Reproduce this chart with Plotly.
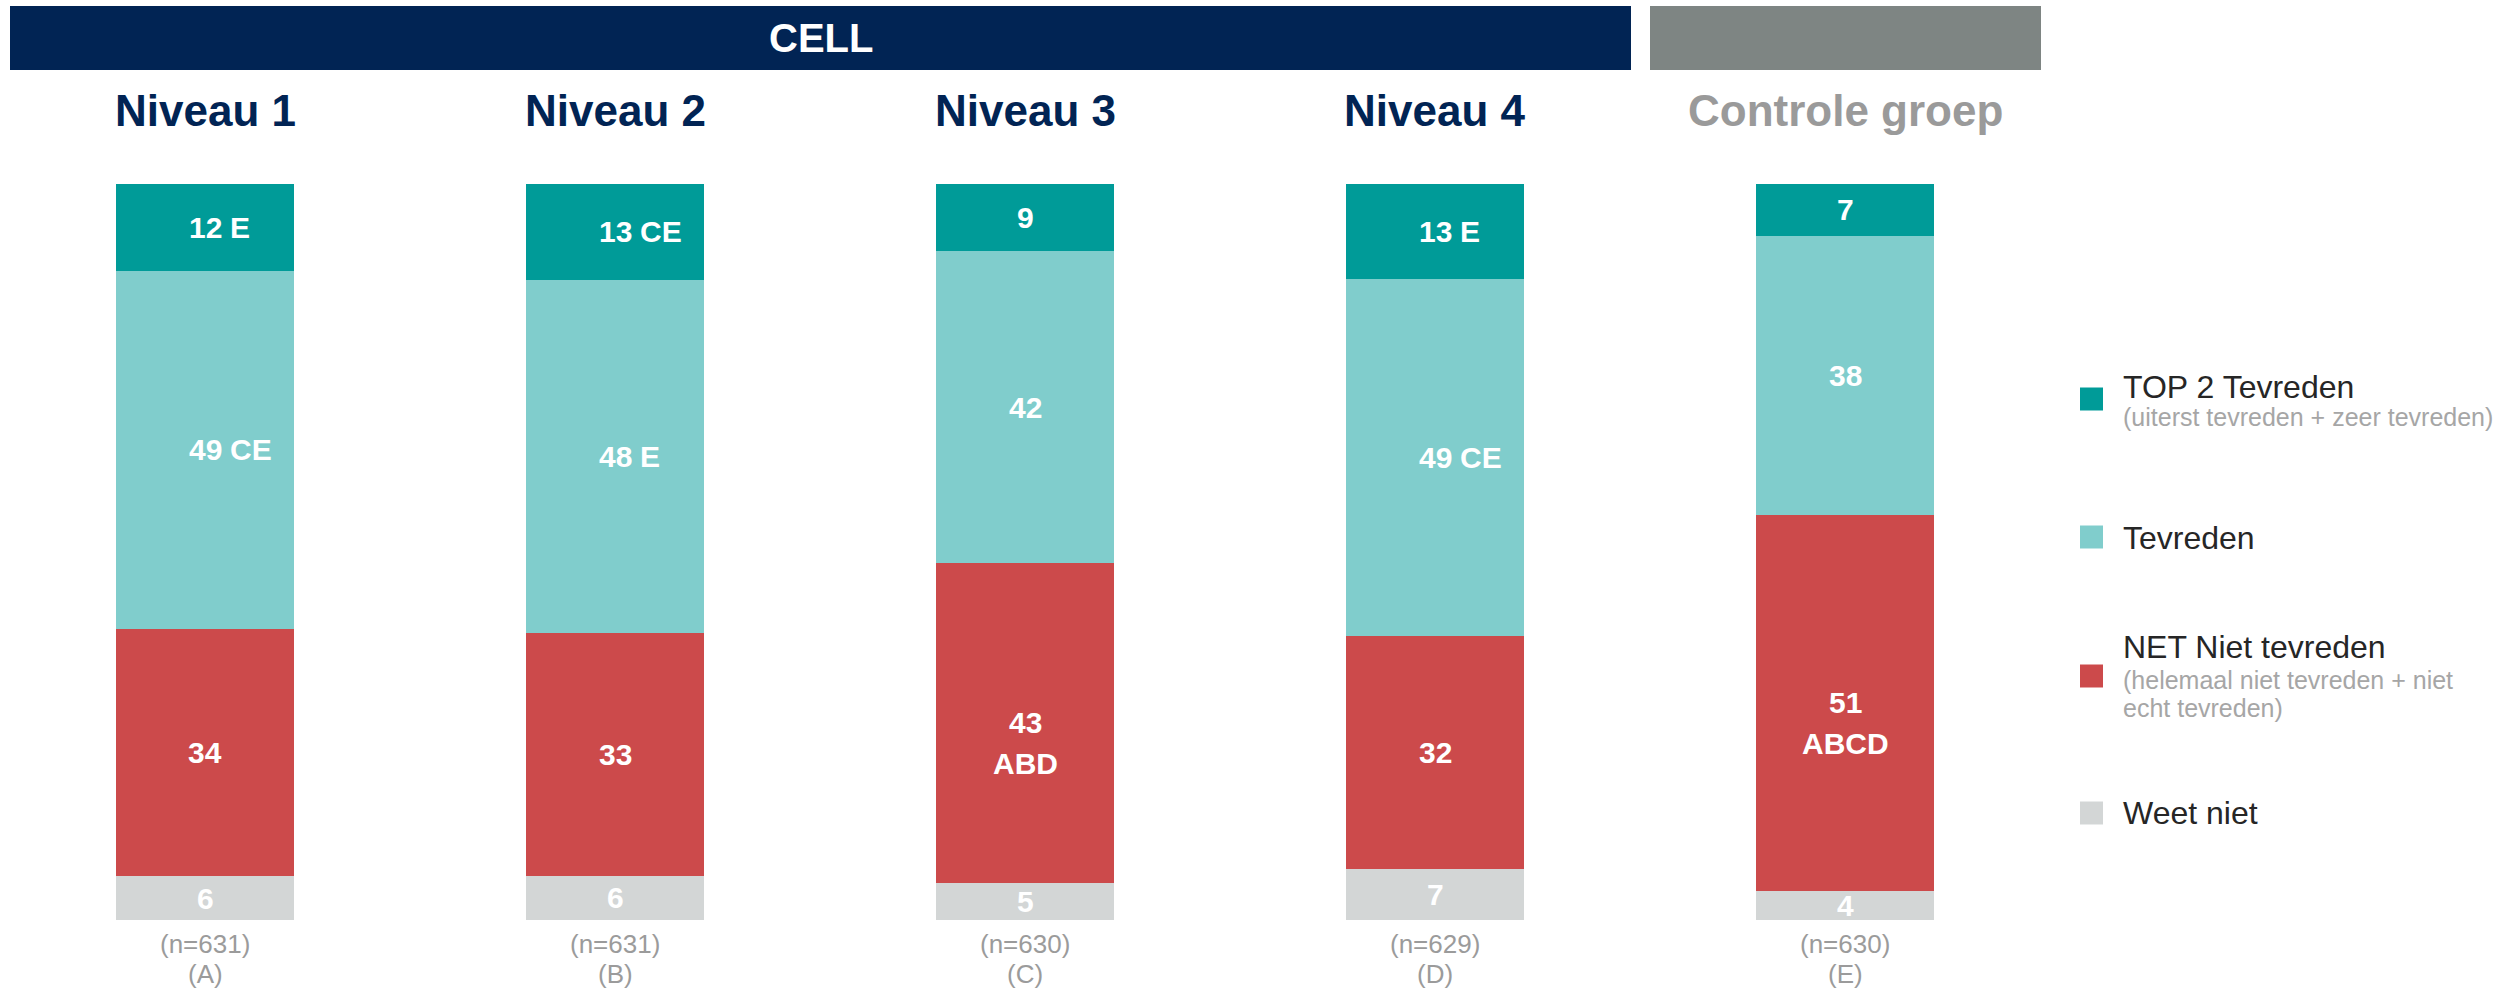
import plotly.graph_objects as go

# ---------------- data ----------------
categories = ["Niveau 1", "Niveau 2", "Niveau 3", "Niveau 4", "Controle groep"]
n_sizes = [631, 631, 630, 629, 630]
group_codes = ["A", "B", "C", "D", "E"]

weet_niet = [6, 6, 5, 7, 4]
niet_tevreden = [34, 33, 43, 32, 51]
tevreden = [49, 48, 42, 49, 38]
top2_tevreden = [12, 13, 9, 13, 7]

weet_niet_sig = ["", "", "", "", ""]
niet_tevreden_sig = ["", "", "ABD", "", "ABCD"]
tevreden_sig = ["CE", "E", "", "CE", ""]
top2_tevreden_sig = ["E", "CE", "", "E", ""]

series_names = ["Weet niet", "NET Niet tevreden", "Tevreden", "TOP 2 Tevreden"]
series_notes = ["", "(helemaal niet tevreden + niet<br>echt tevreden)", "",
                "(uiterst tevreden + zeer tevreden)"]
banner_text = "CELL"

# ---------------- styling ----------------
W, H = 2496, 995
FONT = "Liberation Sans, Arial, Helvetica, sans-serif"
NAVY = "#012454"
series_values = [weet_niet, niet_tevreden, tevreden, top2_tevreden]
series_sig = [weet_niet_sig, niet_tevreden_sig, tevreden_sig, top2_tevreden_sig]
series_colors = ["#D3D6D6", "#CC4A4B", "#80CDCC", "#009B98"]
sig_layout = ["inline", "below", "inline", "inline"]
control_index = 4


def px(x):
    return x / W


def py(y):
    return 1 - y / H


fig = go.Figure()
for name, vals, col in zip(series_names, series_values, series_colors):
    fig.add_trace(go.Bar(
        x=categories, y=vals, name=name,
        marker=dict(color=col, line=dict(width=0)),
        showlegend=False, hoverinfo="x+y+name",
    ))

annotations = []
shapes = []

# segment labels
totals = [sum(s[i] for s in series_values) for i in range(len(categories))]
label_font = dict(family=FONT, size=30, color="white", weight="bold")
for s_idx, (vals, sigs) in enumerate(zip(series_values, series_sig)):
    for i, cat in enumerate(categories):
        cum = sum(series_values[k][i] for k in range(s_idx))
        mid = (cum + vals[i] / 2) / totals[i] * 100
        annotations.append(dict(x=cat, y=mid, xref="x", yref="y", text=str(vals[i]),
                                showarrow=False, xanchor="center", yanchor="middle",
                                font=label_font))
        if sigs[i]:
            if sig_layout[s_idx] == "inline":
                half = len(str(vals[i])) * 0.556 * 30 / 2
                annotations.append(dict(x=cat, y=mid, xref="x", yref="y", text=sigs[i],
                                        showarrow=False, xanchor="left", yanchor="middle",
                                        xshift=half + 6, font=label_font))
            else:
                annotations.append(dict(x=cat, y=mid, xref="x", yref="y", text=sigs[i],
                                        showarrow=False, xanchor="center", yanchor="middle",
                                        yshift=-41, font=label_font))

# column titles and base labels
for i, cat in enumerate(categories):
    col = "#9A9A9A" if i == control_index else NAVY
    annotations.append(dict(x=cat, y=py(110), xref="x", yref="paper", text=cat,
                            showarrow=False, xanchor="center", yanchor="middle",
                            font=dict(family=FONT, size=44, color=col, weight="bold")))
    annotations.append(dict(x=cat, y=py(944), xref="x", yref="paper",
                            text=f"(n={n_sizes[i]})", showarrow=False,
                            xanchor="center", yanchor="middle",
                            font=dict(family=FONT, size=26, color="#9B9B9B")))
    annotations.append(dict(x=cat, y=py(974), xref="x", yref="paper",
                            text=f"({group_codes[i]})", showarrow=False,
                            xanchor="center", yanchor="middle",
                            font=dict(family=FONT, size=26, color="#9B9B9B")))

# banner
shapes.append(dict(type="rect", xref="paper", yref="paper", x0=px(10), x1=px(1631),
                   y0=py(70), y1=py(6), fillcolor=NAVY, line=dict(width=0), layer="below"))
shapes.append(dict(type="rect", xref="paper", yref="paper", x0=px(1650), x1=px(2041),
                   y0=py(70), y1=py(6), fillcolor="#7E8583", line=dict(width=0), layer="below"))
annotations.append(dict(x=px(820.5), y=py(38), xref="paper", yref="paper", text=banner_text,
                        showarrow=False, xanchor="center", yanchor="middle",
                        font=dict(family=FONT, size=40, color="white", weight="bold")))

# legend (top to bottom: reversed stacking order)
legend_rows = [
    # (series index, square centre y, main text y, note line ys)
    (3, 399, 387, [417]),
    (2, 537, 538, []),
    (1, 676, 647, [680, 708]),
    (0, 813, 813, []),
]
for s_idx, sq_y, txt_y, note_ys in legend_rows:
    shapes.append(dict(type="rect", xref="paper", yref="paper", x0=px(2080), x1=px(2103),
                       y0=py(sq_y + 11.5), y1=py(sq_y - 11.5),
                       fillcolor=series_colors[s_idx], line=dict(width=0)))
    annotations.append(dict(x=px(2121), y=py(txt_y), xref="paper", yref="paper",
                            text=series_names[s_idx], showarrow=False,
                            xanchor="left", yanchor="middle",
                            font=dict(family=FONT, size=32, color="#262626")))
    notes = series_notes[s_idx].split("<br>") if series_notes[s_idx] else []
    for line, ny in zip(notes, note_ys):
        annotations.append(dict(x=px(2121), y=py(ny), xref="paper", yref="paper",
                                text=line, showarrow=False, xanchor="left", yanchor="middle",
                                font=dict(family=FONT, size=25, color="#A6A6A6")))

fig.update_layout(
    width=W, height=H, autosize=False,
    margin=dict(l=0, r=0, t=0, b=0, pad=0),
    paper_bgcolor="white", plot_bgcolor="white",
    barmode="stack", barnorm="percent", bargap=0.566,
    xaxis=dict(domain=[0, 2050 / W], type="category", range=[-0.5, 4.5],
               visible=False, fixedrange=True),
    yaxis=dict(domain=[1 - 920 / H, 1 - 184 / H], range=[0, 100],
               visible=False, fixedrange=True),
    annotations=annotations, shapes=shapes,
    font=dict(family=FONT),
)

fig.write_html("out.html", config={"displayModeBar": False},
               post_script="document.body.style.margin='0';")
